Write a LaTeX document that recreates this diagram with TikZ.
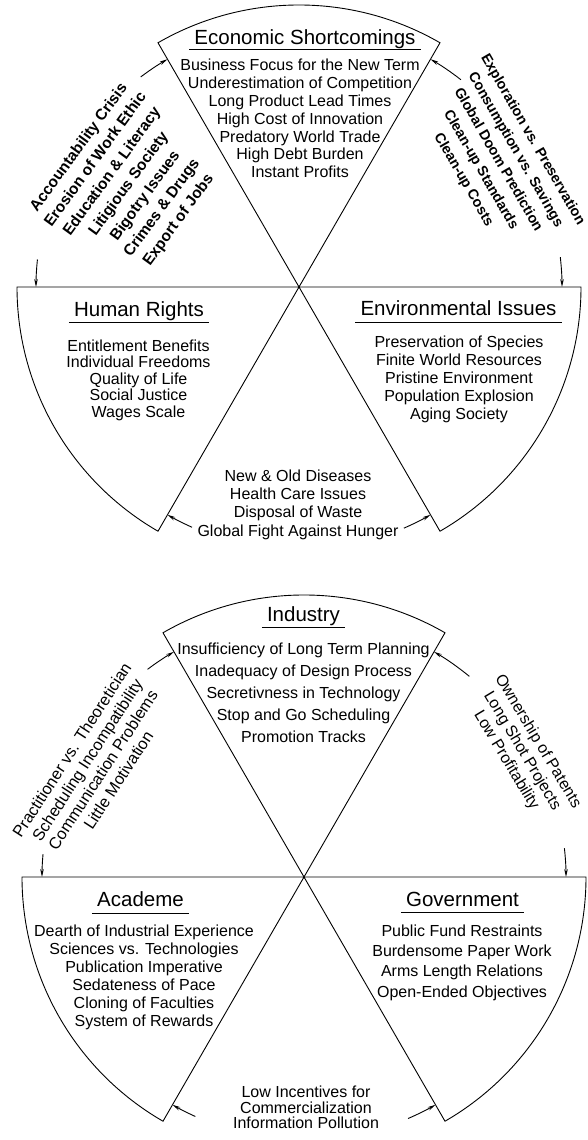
\documentclass[tikz,border=0pt]{standalone}
\usepackage{fontspec}
\setmainfont{Liberation Sans}
\usetikzlibrary{arrows.meta}
\tikzset{
  sector/.style={draw=black, line width=0.9pt, line join=miter},
  conn/.style={draw=black, line width=0.9pt, -{Stealth[length=8pt,width=3.6pt]}},
  title/.style={font=\fontsize{20.5}{24}\selectfont, inner xsep=5pt, inner ysep=0pt, anchor=base},
  uline/.style={draw=black, line width=0.9pt},
  body/.style={align=center, inner sep=0pt, font=\fontsize{16}{18}\selectfont},
  rotbody/.style={align=center, inner sep=0pt}
}
\begin{document}
\begin{tikzpicture}[x=1pt,y=1pt]
\useasboundingbox (0,0) rectangle (588,1140);
% ================= upper diagram =================
\coordinate (C1) at (299,853);
\draw[sector] (C1) -- ++(60:282pt) arc[start angle=60,end angle=120,radius=282pt] -- cycle;
\draw[sector] (C1) -- ++(180:282pt) arc[start angle=180,end angle=240,radius=282pt] -- cycle;
\draw[sector] (C1) -- ++(300:282pt) arc[start angle=300,end angle=360,radius=282pt] -- cycle;

\node[title] (econ) at (305,1095) {Economic Shortcomings};
\draw[uline] ([yshift=-4.5pt]econ.base west) -- ([yshift=-4.5pt]econ.base east);
\node[body, font=\fontsize{16}{17.8}\selectfont] (econb) at (300,1021.5) {Business Focus for the New Term\\Underestimation of Competition\\Long Product Lead Times\\High Cost of Innovation\\Predatory World Trade\\High Debt Burden\\Instant Profits};

\node[title] (hr) at (139,823) {Human Rights};
\draw[uline] ([yshift=-5.5pt]hr.base west) -- ([yshift=-5.5pt]hr.base east);
\node[body, font=\fontsize{16}{16.5}\selectfont] (hrb) at (138.5,760) {Entitlement Benefits\\Individual Freedoms\\Quality of Life\\Social Justice\\Wages Scale};

\node[title] (env) at (458.5,824) {Environmental Issues};
\draw[uline] ([yshift=-6pt]env.base west) -- ([yshift=-6pt]env.base east);
\node[body, font=\fontsize{16}{18}\selectfont] (envb) at (459,761) {Preservation of Species\\Finite World Resources\\Pristine Environment\\Population Explosion\\Aging Society};

\node[body, font=\fontsize{16}{18.3}\selectfont] (ub) at (298,635.5) {New \& Old Diseases\\Health Care Issues\\Disposal of Waste\\Global Fight Against Hunger};

\node[rotbody, rotate=54, font=\bfseries\fontsize{15.5}{20.5}\selectfont] (ul) at (129,956) {Accountability Crisis\\Erosion of Work Ethic\\Education \& Literacy\\Litigious Society\\Bigotry Issues\\Crimes \& Drugs\\Export of Jobs};

\node[rotbody, rotate=-60, font=\bfseries\fontsize{14.3}{20}\selectfont] (ur) at (498,980) {Exploration vs. Preservation\\Consumption vs. Savings\\Global Doom Prediction\\Clean-up Standards\\Clean-up Costs};

% connectors upper
\coordinate (u1) at ([shift={(127:263pt)}]C1);
\coordinate (u2) at ([shift={(174:263pt)}]C1);
\coordinate (u3) at ([shift={(52:263pt)}]C1);
\coordinate (u4) at ([shift={(6.5:263pt)}]C1);
\coordinate (u5) at ([shift={(246:263pt)}]C1);
\coordinate (u6) at ([shift={(293.5:263pt)}]C1);
\draw[conn] (u1) arc[start angle=127,end angle=120,radius=263pt];
\draw[conn] (u2) arc[start angle=174,end angle=180,radius=263pt];
\draw[conn] (u3) arc[start angle=52,end angle=60,radius=263pt];
\draw[conn] (u4) arc[start angle=6.5,end angle=0,radius=263pt];
\draw[conn] (u5) arc[start angle=246,end angle=240,radius=263pt];
\draw[conn] (u6) arc[start angle=293.5,end angle=300,radius=263pt];

% ================= lower diagram =================
\coordinate (C2) at (304,263);
\draw[sector] (C2) -- ++(60:282pt) arc[start angle=60,end angle=120,radius=282pt] -- cycle;
\draw[sector] (C2) -- ++(180:282pt) arc[start angle=180,end angle=240,radius=282pt] -- cycle;
\draw[sector] (C2) -- ++(300:282pt) arc[start angle=300,end angle=360,radius=282pt] -- cycle;

\node[title] (ind) at (303.5,518) {Industry};
\draw[uline] ([yshift=-5pt]ind.base west) -- ([yshift=-5pt]ind.base east);
\node[body, font=\fontsize{16}{22}\selectfont] (indb) at (303.5,447.5) {Insufficiency of Long Term Planning\\Inadequacy of Design Process\\Secretivness in Technology\\Stop and Go Scheduling\\Promotion Tracks};

\node[title] (aca) at (140.5,233) {Academe};
\draw[uline] ([yshift=-6pt]aca.base west) -- ([yshift=-6pt]aca.base east);
\node[body, font=\fontsize{16}{18}\selectfont] (acab) at (144,163) {Dearth of Industrial Experience\\Sciences vs. Technologies\\Publication Imperative\\Sedateness of Pace\\Cloning of Faculties\\System of Rewards};

\node[title] (gov) at (462.5,233) {Government};
\draw[uline] ([yshift=-5pt]gov.base west) -- ([yshift=-5pt]gov.base east);
\node[body, font=\fontsize{16}{20.3}\selectfont] (govb) at (462,177.5) {Public Fund Restraints\\Burdensome Paper Work\\Arms Length Relations\\Open-Ended Objectives};

\node[body, font=\fontsize{16}{15.5}\selectfont] (lb) at (306,32.5) {Low Incentives for\\Commercialization\\Information Pollution};

\node[rotbody, rotate=57, font=\fontsize{16.3}{18.5}\selectfont] (ll) at (95,375) {Practitioner vs. Theoretician\\Scheduling Incompatibility\\Communication Problems\\Little Motivation};

\node[rotbody, rotate=-59, font=\fontsize{16}{18.4}\selectfont] (lr) at (522,389) {Ownership of Patents\\Long Shot Projects\\Low Profitability};

% connectors lower
\coordinate (l1) at ([shift={(127:260pt)}]C2);
\coordinate (l2) at ([shift={(175:262pt)}]C2);
\coordinate (l3) at ([shift={(50.5:260pt)}]C2);
\coordinate (l4) at ([shift={(6.3:262pt)}]C2);
\coordinate (l5) at ([shift={(245.6:263pt)}]C2);
\coordinate (l6) at ([shift={(293.3:263pt)}]C2);
\draw[conn] (l1) arc[start angle=127,end angle=120,radius=260pt];
\draw[conn] (l2) arc[start angle=175,end angle=180,radius=262pt];
\draw[conn] (l3) arc[start angle=50.5,end angle=60,radius=260pt];
\draw[conn] (l4) arc[start angle=6.3,end angle=0,radius=262pt];
\draw[conn] (l5) arc[start angle=245.6,end angle=240,radius=263pt];
\draw[conn] (l6) arc[start angle=293.3,end angle=300,radius=263pt];
\end{tikzpicture}
\end{document}
